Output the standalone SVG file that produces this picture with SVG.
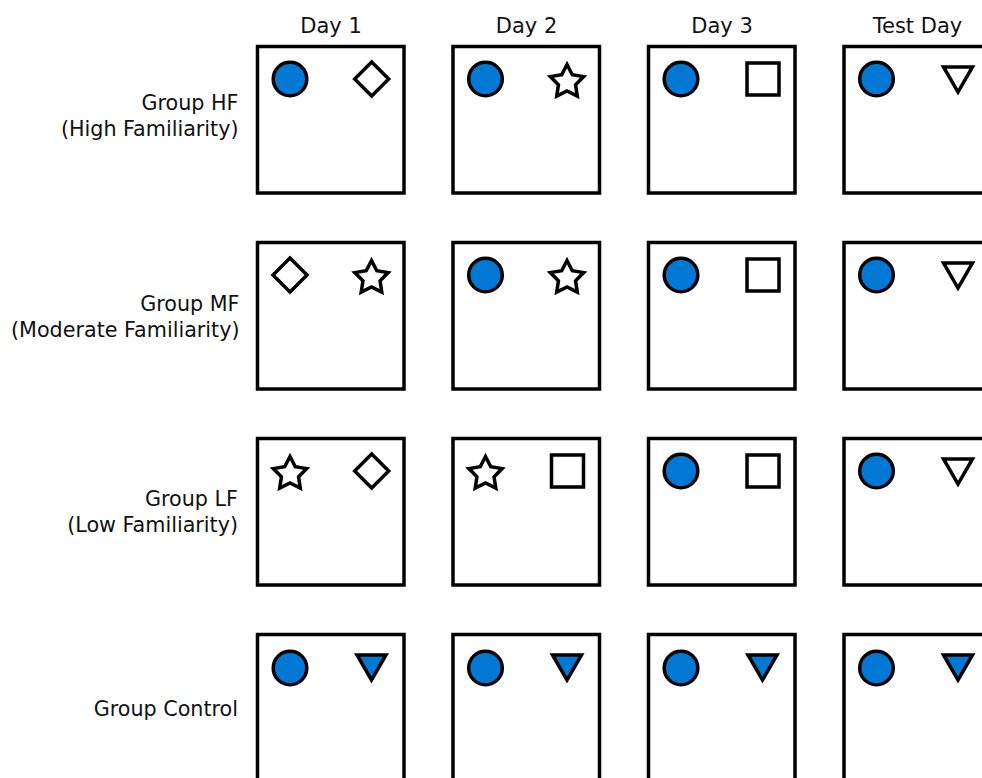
<svg xmlns="http://www.w3.org/2000/svg" xmlns:xlink="http://www.w3.org/1999/xlink" width="982" height="778" viewBox="0 0 982 778">
<style>
.bg{fill:#ffffff}
.box{fill:#ffffff;stroke:#000000;stroke-width:3.5}
.obj{stroke:#000000;stroke-width:3.5;stroke-linejoin:miter}
.open{fill:#ffffff}
.blue{fill:#0078D4}
.hdr{font-family:"DejaVu Sans","Liberation Sans",sans-serif;font-size:21px;fill:#111111;text-anchor:middle}
.lbl{font-family:"DejaVu Sans","Liberation Sans",sans-serif;font-size:20.7px;fill:#111111;text-anchor:end}
</style>
<defs>
<circle id="circ" class="obj blue" cx="0" cy="0" r="16.8"/>
<polygon id="diam" class="obj open" points="0,-17 17,0 0,17 -17,0"/>
<rect id="sq" class="obj open" x="-16" y="-16" width="32" height="32"/>
<polygon id="star" class="obj open" points="0,-17.5 5.29,-7.28 16.64,-5.41 8.56,2.78 10.29,14.16 0,9 -10.29,14.16 -8.56,2.78 -16.64,-5.41 -5.29,-7.28"/>
<polygon id="tri" class="obj open" points="-14.5,-12.5 14.5,-12.5 0,12.6"/>
<polygon id="trib" class="obj blue" points="-14.5,-12.5 14.5,-12.5 0,12.6"/>
<rect id="frame" class="box" x="0" y="0" width="146.5" height="146.5"/>
</defs>
<rect class="bg" x="0" y="0" width="982" height="778"/>

<g id="headers">
<text class="hdr" x="331" y="33">Day 1</text>
<text class="hdr" x="526.5" y="33">Day 2</text>
<text class="hdr" x="722" y="33">Day 3</text>
<text class="hdr" x="917.5" y="33">Test Day</text>
</g>

<g id="labels">
<text class="lbl" x="238.5" y="109.5">Group HF</text>
<text class="lbl" x="238.5" y="135.5">(High Familiarity)</text>
<text class="lbl" x="239.5" y="311">Group MF</text>
<text class="lbl" x="239.5" y="337">(Moderate Familiarity)</text>
<text class="lbl" x="238" y="505.5">Group LF</text>
<text class="lbl" x="238" y="531.5">(Low Familiarity)</text>
<text class="lbl" x="238" y="715.5">Group Control</text>
</g>

<!-- Row HF -->
<g id="hf-day1" transform="translate(257.5,46.5)">
<use href="#frame"/><use href="#circ" x="32.5" y="32.5"/><use href="#diam" x="114.2" y="32.5"/>
</g>
<g id="hf-day2" transform="translate(453,46.5)">
<use href="#frame"/><use href="#circ" x="32.5" y="32.5"/><use href="#star" x="114" y="35.5"/>
</g>
<g id="hf-day3" transform="translate(648.5,46.5)">
<use href="#frame"/><use href="#circ" x="32.5" y="32.5"/><use href="#sq" x="114.5" y="32.5"/>
</g>
<g id="hf-test" transform="translate(844,46.5)">
<use href="#frame"/><use href="#circ" x="32.5" y="32.5"/><use href="#tri" x="114" y="33"/>
</g>

<!-- Row MF -->
<g id="mf-day1" transform="translate(257.5,242.5)">
<use href="#frame"/><use href="#diam" x="32.5" y="32.5"/><use href="#star" x="114" y="35.5"/>
</g>
<g id="mf-day2" transform="translate(453,242.5)">
<use href="#frame"/><use href="#circ" x="32.5" y="32.5"/><use href="#star" x="114" y="35.5"/>
</g>
<g id="mf-day3" transform="translate(648.5,242.5)">
<use href="#frame"/><use href="#circ" x="32.5" y="32.5"/><use href="#sq" x="114.5" y="32.5"/>
</g>
<g id="mf-test" transform="translate(844,242.5)">
<use href="#frame"/><use href="#circ" x="32.5" y="32.5"/><use href="#tri" x="114" y="33"/>
</g>

<!-- Row LF -->
<g id="lf-day1" transform="translate(257.5,438.5)">
<use href="#frame"/><use href="#star" x="32.5" y="35.5"/><use href="#diam" x="114.2" y="32.5"/>
</g>
<g id="lf-day2" transform="translate(453,438.5)">
<use href="#frame"/><use href="#star" x="32.5" y="35.5"/><use href="#sq" x="114.5" y="32.5"/>
</g>
<g id="lf-day3" transform="translate(648.5,438.5)">
<use href="#frame"/><use href="#circ" x="32.5" y="32.5"/><use href="#sq" x="114.5" y="32.5"/>
</g>
<g id="lf-test" transform="translate(844,438.5)">
<use href="#frame"/><use href="#circ" x="32.5" y="32.5"/><use href="#tri" x="114" y="33"/>
</g>

<!-- Row Control -->
<g id="ctl-day1" transform="translate(257.5,634.5)">
<use href="#frame"/><use href="#circ" x="32.5" y="33.5"/><use href="#trib" x="114" y="33"/>
</g>
<g id="ctl-day2" transform="translate(453,634.5)">
<use href="#frame"/><use href="#circ" x="32.5" y="33.5"/><use href="#trib" x="114" y="33"/>
</g>
<g id="ctl-day3" transform="translate(648.5,634.5)">
<use href="#frame"/><use href="#circ" x="32.5" y="33.5"/><use href="#trib" x="114" y="33"/>
</g>
<g id="ctl-test" transform="translate(844,634.5)">
<use href="#frame"/><use href="#circ" x="32.5" y="33.5"/><use href="#trib" x="114" y="33"/>
</g>

<g id="connectors"></g>
</svg>
